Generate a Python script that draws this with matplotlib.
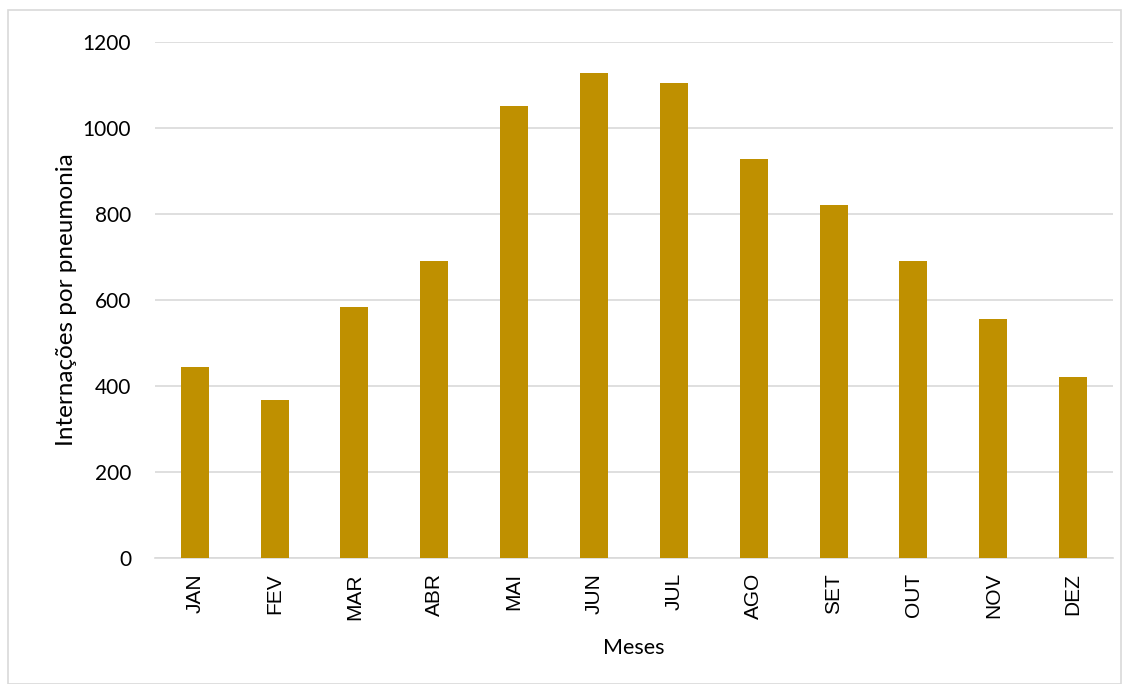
import matplotlib
matplotlib.use("Agg")
import matplotlib.pyplot as plt
from matplotlib.patches import Rectangle

meses = ["JAN", "FEV", "MAR", "ABR", "MAI", "JUN", "JUL", "AGO", "SET", "OUT", "NOV", "DEZ"]
internacoes = [443, 368, 583, 690, 1052, 1127, 1104, 927, 820, 690, 555, 420]

plt.rcParams["font.family"] = ["Lato", "DejaVu Sans"]

fig = plt.figure(figsize=(11.3, 6.84), dpi=100)
ax = fig.add_axes([0.137, 0.1846, 0.848, 0.754])

x = range(len(meses))
ax.bar(x, internacoes, width=0.35, color="#BF9000", zorder=3)

ax.set_xlim(-0.5, len(meses) - 0.5)
ax.set_ylim(0, 1200)
ax.set_yticks(range(0, 1201, 200))
ax.set_xticks(list(x))
ax.set_xticklabels(meses, rotation=90, fontsize=15, family=["Liberation Sans"])
ax.tick_params(axis="y", labelsize=15, length=0, pad=17)
ax.tick_params(axis="x", length=0, pad=11)

ax.grid(axis="y", color="#D9D9D9", linewidth=1.2, zorder=0)
for s in ["top", "right", "left"]:
    ax.spines[s].set_visible(False)
ax.spines["bottom"].set_color("#D9D9D9")
ax.spines["bottom"].set_linewidth(1.2)

ax.set_ylabel("Internações por pneumonia", fontsize=17.5, labelpad=4)
ax.set_xlabel("Meses", fontsize=15.5, labelpad=13)

# moldura externa do gráfico
fig.patches.append(Rectangle((8 / 1130, 0.0), 1113 / 1130, 1 - 10 / 684,
                             transform=fig.transFigure, fill=False,
                             edgecolor="#D9D9D9", linewidth=1.2))

fig.savefig("out.png", dpi=100)
